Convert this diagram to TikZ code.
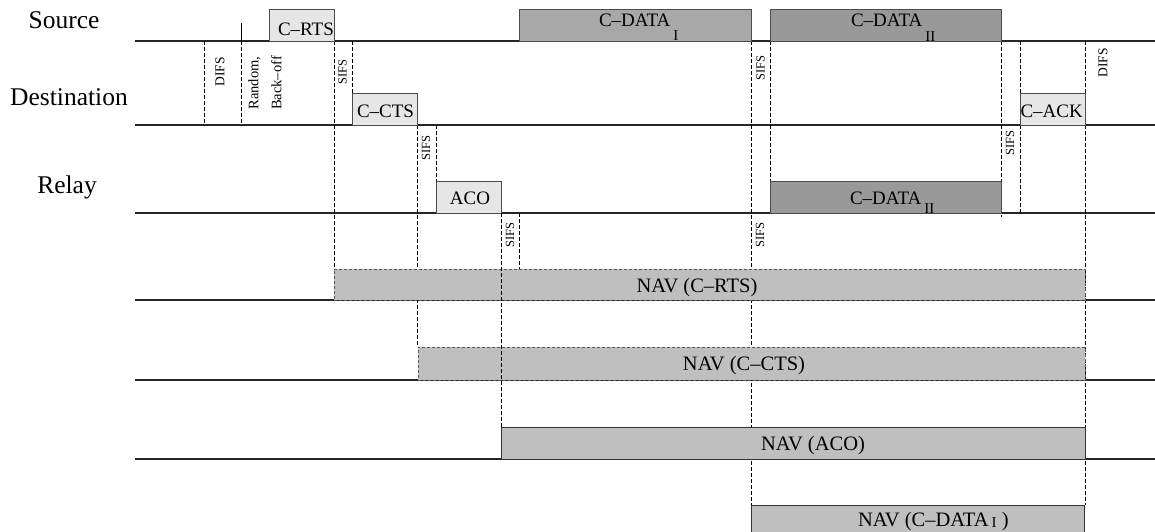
\documentclass[tikz,border=0pt]{standalone}
\usepackage{fontspec}
\setmainfont{Liberation Serif}
\definecolor{lgray}{HTML}{E6E6E6}
\definecolor{dgA}{HTML}{A8A8A8}
\definecolor{dgB}{HTML}{999999}
\definecolor{navc}{HTML}{BFBFBF}
\newcommand\fLab{\fontsize{25.5}{28}\selectfont}
\newcommand\fBox{\fontsize{19}{22}\selectfont}
\newcommand\fNav{\fontsize{20.5}{24}\selectfont}
\newcommand\fSifs{\fontsize{12.5}{14}\selectfont}
\newcommand\fDifs{\fontsize{13.5}{15}\selectfont}
\newcommand\fRnd{\fontsize{14.5}{23}\selectfont}
\newcommand\lowsub[2]{\kern3pt\raisebox{-#1pt}{\fontsize{15}{15}\selectfont #2}}
\begin{document}
\begin{tikzpicture}[x=1pt,y=-1pt,
  baseln/.style={line width=1.1pt, draw=black!85},
  vd/.style={line width=0.8pt, dash pattern=on 3.5pt off 2.5pt},
  boxs/.style={draw=black!70, line width=0.9pt, inner sep=0pt, outer sep=0pt, anchor=north west},
  navd/.style={boxs, fill=navc, draw=black!65, dash pattern=on 3pt off 2pt},
  navs/.style={boxs, fill=navc, draw=black!80},
  txt/.style={inner sep=0pt, outer sep=0pt, anchor=base},
  txtw/.style={inner sep=0pt, outer sep=0pt, anchor=base west},
  vlab/.style={inner sep=0pt, rotate=90}
]
\useasboundingbox (0,0) rectangle (1155,531);
% row labels
\node[txt, font=\fLab] (lsrc) at (64,28) {Source};
\node[txt, font=\fLab] (ldst) at (69,105) {Destination};
\node[txt, font=\fLab] (lrel) at (67,193) {Relay};
% baselines
\foreach \yy/\nm in {41/a,125/b,213/c,300/d,380/e,459/f}{
  \coordinate (bl\nm) at (135,\yy);
  \coordinate (br\nm) at (1155,\yy);
  \draw[baseln] (bl\nm) -- (br\nm);
}
% vertical dashed lines (under boxes)
\coordinate (t1) at (204,41); \coordinate (b1) at (204,125);
\draw[vd] (t1) -- (b1);
\coordinate (s2) at (241,23); \coordinate (t2) at (241,41); \coordinate (b2) at (241,125);
\draw[line width=0.8pt] (s2) -- (t2);
\draw[vd] (t2) -- (b2);
\coordinate (t3) at (334,41); \coordinate (b3) at (334,269);
\draw[vd] (t3) -- (b3);
\coordinate (t4) at (352,41); \coordinate (b4) at (352,93);
\draw[vd] (t4) -- (b4);
\coordinate (t5) at (417.5,125); \coordinate (b5) at (417.5,347);
\draw[vd] (t5) -- (b5);
\coordinate (t6) at (436,125); \coordinate (b6) at (436,181);
\draw[vd] (t6) -- (b6);
\coordinate (t8) at (519,213); \coordinate (b8) at (519,269);
\draw[vd] (t8) -- (b8);
\coordinate (t9) at (751.5,41); \coordinate (b9) at (751.5,505);
\draw[vd] (t9) -- (b9);
\coordinate (t10) at (770,41); \coordinate (b10) at (770,181);
\draw[vd] (t10) -- (b10);
\coordinate (t11) at (1001.5,41); \coordinate (b11) at (1001.5,217);
\draw[vd] (t11) -- (b11);
\coordinate (t12) at (1020.5,41); \coordinate (b12) at (1020.5,213);
\draw[vd] (t12) -- (b12);
\coordinate (t13) at (1085,41); \coordinate (b13) at (1085,505);
\draw[vd] (t13) -- (b13);
% boxes
\node[boxs, fill=lgray, minimum width=65pt, minimum height=32pt] (rts) at (269,9) {};
\node[boxs, fill=lgray, minimum width=65pt, minimum height=32pt] (cts) at (352,93) {};
\node[boxs, fill=lgray, minimum width=65pt, minimum height=32pt] (aco) at (436,181) {};
\node[boxs, fill=lgray, minimum width=65pt, minimum height=32pt] (ack) at (1020.5,93) {};
\node[boxs, fill=dgA, minimum width=232pt, minimum height=32pt] (dataI) at (519,9) {};
\node[boxs, fill=dgB, minimum width=231.5pt, minimum height=32pt] (dataII) at (770,9) {};
\node[boxs, fill=dgB, minimum width=231.5pt, minimum height=32pt] (rdataII) at (770,181) {};
\node[navd, minimum width=751pt, minimum height=31pt] (navrts) at (334,269) {};
\node[navd, minimum width=667pt, minimum height=33pt] (navcts) at (418,347) {};
\node[navs, minimum width=584pt, minimum height=32pt] (navaco) at (501,427) {};
\node[navs, minimum width=333pt, minimum height=40pt] (navdata) at (751.5,505) {};
% dashed line drawn over the NAV boxes
\coordinate (t7) at (501,213); \coordinate (b7) at (501,427);
\draw[vd] (t7) -- (b7);
% box texts
\node[txtw, font=\fBox] (trts) at (278,35) {C--RTS};
\node[txtw, font=\fBox] (tcts) at (357,117) {C--CTS};
\node[txt, font=\fBox] (taco) at (470,204) {ACO};
\node[txtw, font=\fBox] (tack) at (1020.5,117) {C--ACK};
\node[txtw, font=\fBox] (tdI) at (599,26) {C--DATA\lowsub{14}{I}};
\node[txtw, font=\fBox] (tdII) at (851,26) {C--DATA\lowsub{15}{II}};
\node[txtw, font=\fBox] (trdII) at (850,204) {C--DATA\lowsub{9}{II}};
% NAV texts
\node[txt, font=\fNav] (tnrts) at (697,292) {NAV (C--RTS)};
\node[txt, font=\fNav] (tncts) at (744,370) {NAV (C--CTS)};
\node[txt, font=\fNav] (tnaco) at (813,450) {NAV (ACO)};
\node[txtw, font=\fNav] (tndata) at (858,526) {NAV (C--DATA\lowsub{1}{I} )};
% vertical labels
\node[vlab, font=\fDifs] (ldifs1) at (220,72) {DIFS};
\node[vlab, font=\fRnd, align=center] (lrnd) at (265,83) {Random,\\Back--off};
\node[vlab, font=\fSifs] (lsifs1) at (342.5,72) {SIFS};
\node[vlab, font=\fSifs] (lsifs2) at (426,148) {SIFS};
\node[vlab, font=\fSifs] (lsifs3) at (510,235) {SIFS};
\node[vlab, font=\fSifs] (lsifs4) at (760.5,68) {SIFS};
\node[vlab, font=\fSifs] (lsifs5) at (760,235) {SIFS};
\node[vlab, font=\fSifs] (lsifs6) at (1010,143) {SIFS};
\node[vlab, font=\fDifs] (ldifs2) at (1103,63) {DIFS};
\end{tikzpicture}
\end{document}
